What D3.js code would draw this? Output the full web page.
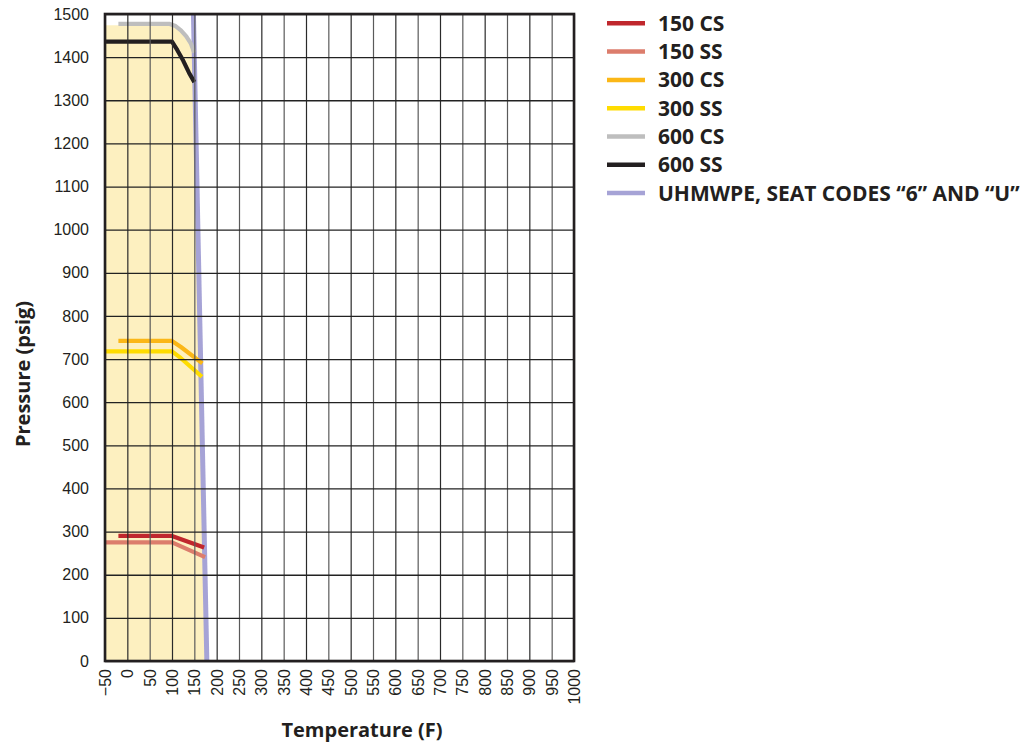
<!DOCTYPE html>
<html>
<head>
<meta charset="utf-8">
<script src="https://cdn.jsdelivr.net/npm/d3@7"></script>
<style>
  html, body { margin: 0; padding: 0; background: #fff; }
  svg { display: block; }
</style>
</head>
<body>
<svg id="chart" width="1034" height="744"></svg>
<script>
// ---- Data ----
const xTicks = [-50,0,50,100,150,200,250,300,350,400,450,500,550,600,650,700,750,800,850,900,950,1000];
const yTicks = [0,100,200,300,400,500,600,700,800,900,1000,1100,1200,1300,1400,1500];

// [temperature F, pressure psig]
const cs150 = [[-20,290],[100,290],[172,263]];
const ss150 = [[-50,275],[100,275],[174,241]];
const cs300 = [[-20,742],[100,742],[120,728],[168,690]];
const ss300 = [[-50,718],[100,718],[120,702],[167,659]];
const cs600 = [[-20,1477],[95,1477],[108,1472],[120,1462],[132,1448],[142,1432],[150,1410]];
const ss600 = [[-50,1436],[100,1436],[112,1416],[125,1392],[138,1364],[150,1342]];
const uhmwpe = [[148,1500],[178,0]];
// shaded operating region
const region = [[-50,0],[-50,1474],[98,1474],[112,1468],[124,1458],[134,1446],[142,1432],[150,1412],[178,0]];

const seriesNames = ["150 CS","150 SS","300 CS","300 SS","600 CS","600 SS","UHMWPE, SEAT CODES \u201C6\u201D AND \u201CU\u201D"];
const seriesColors = ["#c0272d","#dc7d6c","#fbb717","#ffdc00","#bebebe","#231f20","#a6a3d6"];

(function(){
// ---- Layout ----
const svg = d3.select("#chart");
const pL = 105, pT = 14, pR = 574, pB = 661;
const x = d3.scaleLinear().domain([-50,1000]).range([pL,pR]);
const y = d3.scaleLinear().domain([0,1500]).range([pB,pT]);

const tickFont = "'Liberation Sans', Arial, sans-serif";
const boldFont = "'Open Sans', sans-serif";

// clip
svg.append("defs").append("clipPath").attr("id","plotclip")
  .append("rect").attr("x",pL).attr("y",pT).attr("width",pR-pL).attr("height",pB-pT);

const plot = svg.append("g").attr("clip-path","url(#plotclip)");

// region fill
plot.append("path")
  .datum(region)
  .attr("d", d3.line().x(d=>x(d[0])).y(d=>y(d[1])))
  .attr("fill","#fdf0c0")
  .attr("stroke","none");

// gridlines via axes
const gx = svg.append("g").attr("transform",`translate(0,${pB})`)
  .call(d3.axisBottom(x).tickValues(xTicks).tickSize(-(pB-pT)).tickFormat(""));
gx.select(".domain").remove();
gx.selectAll(".tick line").attr("stroke", d=> d%100===0 ? "#2a2a2a" : "#5a5a5a").attr("stroke-width",1.2);

const gy = svg.append("g").attr("transform",`translate(${pL},0)`)
  .call(d3.axisLeft(y).tickValues(yTicks).tickSize(-(pR-pL)).tickFormat(""));
gy.select(".domain").remove();
gy.selectAll(".tick line").attr("stroke","#222").attr("stroke-width",1.3);

// lines
const line = d3.line().x(d=>x(d[0])).y(d=>y(d[1]));
const data = [cs150, ss150, cs300, ss300, cs600, ss600];

plot.append("path").datum(uhmwpe).attr("d",line)
  .attr("fill","none").attr("stroke",seriesColors[6]).attr("stroke-width",5);

data.forEach((s,i)=>{
  plot.append("path").datum(s).attr("d",line)
    .attr("fill","none").attr("stroke",seriesColors[i])
    .attr("stroke-width",4.2).attr("stroke-linejoin","round");
});

// frame
svg.append("rect").attr("x",pL).attr("y",pT).attr("width",pR-pL).attr("height",pB-pT)
  .attr("fill","none").attr("stroke","#231f20").attr("stroke-width",2.6);

// tick labels
const xl = svg.append("g").attr("transform",`translate(0,${pB})`)
  .call(d3.axisBottom(x).tickValues(xTicks).tickSize(0).tickPadding(0).tickFormat(d3.format("d")));
xl.select(".domain").remove();
xl.selectAll(".tick text")
  .attr("transform","rotate(-90)")
  .attr("x",-8).attr("y",0).attr("dy","0.35em")
  .attr("text-anchor","end")
  .attr("font-family",tickFont).attr("font-size",16).attr("fill","#231f20");

const yl = svg.append("g").attr("transform",`translate(${pL},0)`)
  .call(d3.axisLeft(y).tickValues(yTicks).tickSize(0).tickPadding(16).tickFormat(d3.format("d")));
yl.select(".domain").remove();
yl.selectAll(".tick text")
  .attr("font-family",tickFont).attr("font-size",16).attr("fill","#231f20");

// axis titles
svg.append("text").attr("x",362).attr("y",737)
  .attr("text-anchor","middle").attr("font-family",boldFont).attr("font-weight",700)
  .attr("font-size",20).attr("fill","#231f20").text("Temperature (F)");
svg.append("text").attr("transform","translate(30,374) rotate(-90)")
  .attr("text-anchor","middle").attr("font-family",boldFont).attr("font-weight",700)
  .attr("font-size",20).attr("fill","#231f20").text("Pressure (psig)");

// legend
const lg = svg.append("g");
seriesNames.forEach((n,i)=>{
  const cy = 23.3 + i*28.3;
  lg.append("line").attr("x1",607).attr("x2",645).attr("y1",cy).attr("y2",cy)
    .attr("stroke",seriesColors[i]).attr("stroke-width",4.5);
  lg.append("text").attr("x",658).attr("y",cy+7.5)
    .attr("font-family",boldFont).attr("font-weight",700).attr("font-size",21)
    .attr("fill","#231f20").text(n);
});
})();
</script>
</body>
</html>
